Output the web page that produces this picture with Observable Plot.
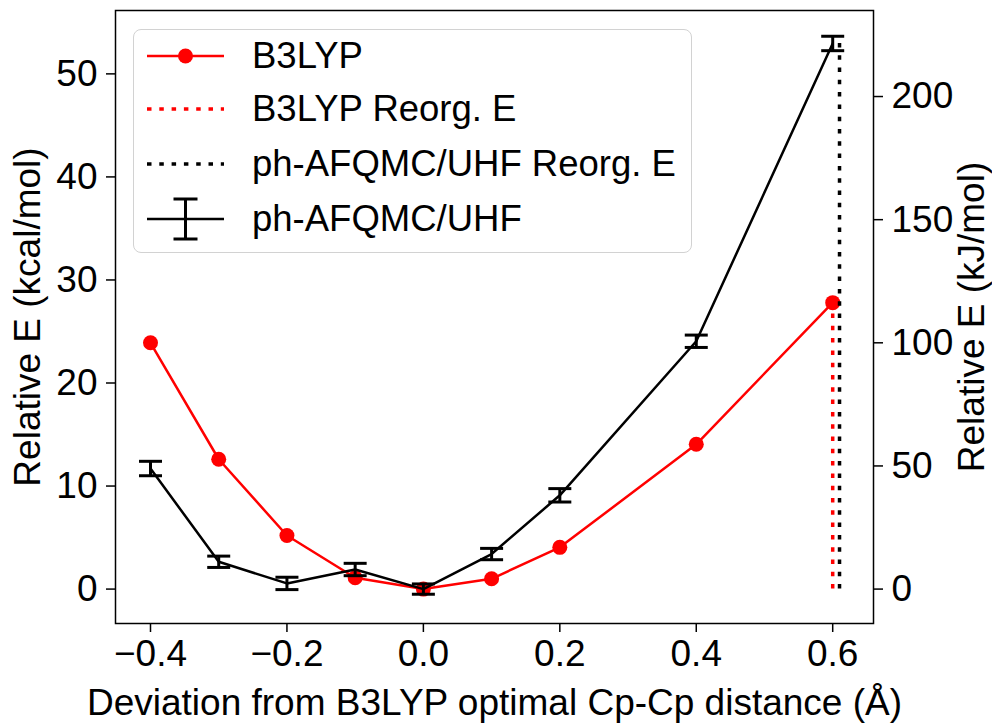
<!DOCTYPE html>
<html><head><meta charset="utf-8">
<script src="https://cdn.jsdelivr.net/npm/d3@7"></script>
<script src="https://cdn.jsdelivr.net/npm/@observablehq/plot@0.6"></script>
<style>
body{margin:0;background:#fff;}
#wrap{position:relative;width:992px;height:723px;font-family:"Liberation Sans",Arial,Helvetica,sans-serif;}
#legend{position:absolute;left:133px;top:29px;width:557px;height:222px;border:1.5px solid #d2d2d2;border-radius:8px;background:rgba(255,255,255,0.8);box-sizing:content-box;}
.row{position:absolute;left:0;height:50px;width:100%;}
.row svg{position:absolute;left:13px;top:0;}
.row span{position:absolute;left:118px;top:0;line-height:50px;font-size:36.5px;color:#000;white-space:nowrap;}
</style></head>
<body><div id="wrap"><div id="chart"></div><div id="legend"></div></div>
<script>
// Data
const xs = [-0.4, -0.3, -0.2, -0.1, 0.0, 0.1, 0.2, 0.4, 0.6];
const b3lyp = [23.9, 12.6, 5.2, 1.1, 0.0, 1.0, 4.05, 14.05, 27.8];
const afqmc = [11.7, 2.65, 0.55, 1.9, 0.0, 3.4, 9.1, 24.05, 52.95];
const afqmcErr = [0.7, 0.55, 0.6, 0.6, 0.5, 0.55, 0.65, 0.6, 0.7];
const b3lypReorgX = 0.6;
const afqmcReorgX = 0.61;
const xTicks = [-0.4, -0.2, 0.0, 0.2, 0.4, 0.6];
const yTicks = [0, 10, 20, 30, 40, 50];
const kjTicks = [0, 50, 100, 150, 200];
const KCAL_TO_KJ = 4.184;
const legendLabels = ["B3LYP", "B3LYP Reorg. E", "ph-AFQMC/UHF Reorg. E", "ph-AFQMC/UHF"];

const b3Data = xs.map((x, i) => ({x, y: b3lyp[i]}));
const afData = xs.map((x, i) => ({x, y: afqmc[i], lo: afqmc[i] - afqmcErr[i], hi: afqmc[i] + afqmcErr[i]}));
const reorg = [
  {x: b3lypReorgX, y1: 0, y2: b3lyp[b3lyp.length - 1], c: "red"},
  {x: afqmcReorgX, y1: 0, y2: afqmc[afqmc.length - 1], c: "black"}
];
const capSymbol = {draw(ctx) { ctx.moveTo(-11.5, 0); ctx.lineTo(11.5, 0); }};
const fmtX = d => d.toFixed(1).replace("-", "\u2212");

const font = "'Liberation Sans', Arial, Helvetica, sans-serif";
const chart = Plot.plot({
  width: 992, height: 723,
  marginLeft: 115, marginRight: 119, marginTop: 10, marginBottom: 100,
  style: {fontFamily: font, fontSize: "35px", color: "black", background: "white"},
  x: {domain: [-0.4513, 0.6598]},
  y: {domain: [-3.34, 56.15]},
  marks: [
    Plot.axisX({ticks: xTicks, tickFormat: fmtX, tickSize: 9, tickPadding: 7, strokeWidth: 1.5,
      label: "Deviation from B3LYP optimal Cp-Cp distance (Å)", labelAnchor: "center", labelArrow: "none", labelOffset: 91, fontSize: 37}),
    Plot.axisY({ticks: yTicks, tickSize: 9, tickPadding: 9, strokeWidth: 1.5,
      label: "Relative E (kcal/mol)", labelAnchor: "center", labelArrow: "none", labelOffset: 102, fontSize: 37}),
    Plot.axisY({anchor: "right", ticks: kjTicks.map(v => v / KCAL_TO_KJ), tickFormat: d => String(Math.round(d * KCAL_TO_KJ)),
      tickSize: 9, tickPadding: 9, strokeWidth: 1.5,
      label: "Relative E (kJ/mol)", labelAnchor: "center", labelArrow: "none", labelOffset: 110, fontSize: 37}),
    Plot.frame({stroke: "black", strokeWidth: 1.5}),
    Plot.line(b3Data, {x: "x", y: "y", stroke: "red", strokeWidth: 2.5}),
    Plot.dot(b3Data, {x: "x", y: "y", r: 7.5, fill: "red", stroke: "none"}),
    Plot.ruleX(reorg, {x: "x", y1: "y1", y2: "y2", stroke: "c", strokeWidth: 3.5, strokeDasharray: "4.5 7.8"}),
    Plot.line(afData, {x: "x", y: "y", stroke: "black", strokeWidth: 2.5}),
    Plot.ruleX(afData, {x: "x", y1: "lo", y2: "hi", stroke: "black", strokeWidth: 3}),
    Plot.dot(afData, {x: "x", y: "lo", symbol: capSymbol, stroke: "black", strokeWidth: 3, fill: "none"}),
    Plot.dot(afData, {x: "x", y: "hi", symbol: capSymbol, stroke: "black", strokeWidth: 3, fill: "none"})
  ]
});
document.getElementById("chart").appendChild(chart);

// Legend
const legend = document.getElementById("legend");
const rowCenters = [26, 79, 134, 189];
const handles = [
  '<line x1="0" y1="25" x2="77" y2="25" stroke="red" stroke-width="2.5"/><circle cx="38.5" cy="25" r="7.5" fill="red"/>',
  '<line x1="0" y1="25" x2="77" y2="25" stroke="red" stroke-width="3.5" stroke-dasharray="4.5 7.8"/>',
  '<line x1="0" y1="25" x2="77" y2="25" stroke="black" stroke-width="3.5" stroke-dasharray="4.5 7.8"/>',
  '<line x1="0" y1="25" x2="77" y2="25" stroke="black" stroke-width="2.5"/><line x1="38.5" y1="5" x2="38.5" y2="45" stroke="black" stroke-width="3"/><line x1="26.5" y1="5" x2="50.5" y2="5" stroke="black" stroke-width="3"/><line x1="26.5" y1="45" x2="50.5" y2="45" stroke="black" stroke-width="3"/>'
];
legendLabels.forEach((lab, i) => {
  const row = document.createElement("div");
  row.className = "row";
  row.style.top = (rowCenters[i] - 25) + "px";
  row.innerHTML = `<svg width="80" height="50">${handles[i]}</svg><span>${lab}</span>`;
  legend.appendChild(row);
});
</script></body></html>
